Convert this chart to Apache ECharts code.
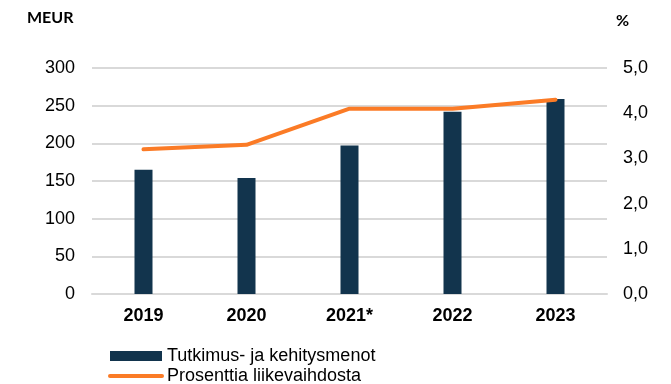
<!DOCTYPE html>
<html>
<head>
<meta charset="utf-8">
<script src="https://cdn.jsdelivr.net/npm/echarts@6/dist/echarts.min.js"></script>
<style>
  html, body { margin: 0; padding: 0; background: #ffffff; }
  #chart { width: 671px; height: 384px; }
</style>
</head>
<body>
<div id="chart"></div>
<script>
// Vuodet ja arvot
const years = ['2019', '2020', '2021*', '2022', '2023'];
const rdSpend = [165, 154, 197, 242, 259];          // MEUR
const shareOfRevenue = [3.2, 3.3, 4.1, 4.1, 4.3];   // %
const leftTicks = [0, 300, 50];                     // min, max, interval
const rightTicks = [0, 5, 1];

const barColor = '#12344d';
const lineColor = '#fb7b26';
const gridColor = '#d9d9d9';
const font = '"Liberation Sans", Arial, sans-serif';

const chart = echarts.init(document.getElementById('chart'), null, { renderer: 'canvas' });

chart.setOption({
  animation: false,
  backgroundColor: '#ffffff',
  grid: { left: 92, right: 64, top: 68, bottom: 90, containLabel: false },
  graphic: [
    {
      type: 'text', left: 27, top: 10,
      style: { text: 'MEUR', fontFamily: 'Lato, "Open Sans", sans-serif', fontWeight: 'bold', fontSize: 16, fill: '#000' }
    },
    {
      type: 'text', left: 616, top: 13,
      style: { text: '%', fontFamily: 'Lato, "Open Sans", sans-serif', fontWeight: 'bold', fontSize: 16, fill: '#000' }
    }
  ],
  legend: {
    orient: 'vertical',
    left: 108,
    top: 346,
    height: 60,
    padding: 0,
    itemWidth: 52,
    itemHeight: 10,
    itemGap: 0,
    textStyle: { fontFamily: font, fontSize: 18, color: '#000', lineHeight: 20 },
    data: [
      { name: 'Tutkimus- ja kehitysmenot', icon: 'rect' },
      {
        name: 'Prosenttia liikevaihdosta',
        itemStyle: { opacity: 0 },
        lineStyle: { width: 4, color: lineColor, cap: 'round' }
      }
    ]
  },
  xAxis: {
    type: 'category',
    data: years,
    axisTick: { show: false },
    axisLine: { lineStyle: { color: gridColor, width: 2 } },
    axisLabel: { fontFamily: font, fontSize: 18, fontWeight: 'bold', color: '#000', margin: 13 }
  },
  yAxis: [
    {
      type: 'value',
      min: leftTicks[0], max: leftTicks[1], interval: leftTicks[2],
      axisLine: { show: false },
      axisTick: { show: false },
      splitLine: { lineStyle: { color: gridColor, width: 2 } },
      axisLabel: { fontFamily: font, fontSize: 18, color: '#000', margin: 17 }
    },
    {
      type: 'value',
      min: rightTicks[0], max: rightTicks[1], interval: rightTicks[2],
      axisLine: { show: false },
      axisTick: { show: false },
      splitLine: { show: false },
      axisLabel: {
        fontFamily: font, fontSize: 18, color: '#000', margin: 16,
        formatter: v => v.toFixed(1).replace('.', ',')
      }
    }
  ],
  series: [
    {
      name: 'Tutkimus- ja kehitysmenot',
      type: 'bar',
      yAxisIndex: 0,
      data: rdSpend,
      barWidth: 18,
      itemStyle: { color: barColor }
    },
    {
      name: 'Prosenttia liikevaihdosta',
      type: 'line',
      yAxisIndex: 1,
      data: shareOfRevenue,
      symbol: 'none',
      showSymbol: false,
      lineStyle: { color: lineColor, width: 4, cap: 'round', join: 'round' },
      itemStyle: { color: lineColor }
    }
  ]
});
</script>
</body>
</html>
